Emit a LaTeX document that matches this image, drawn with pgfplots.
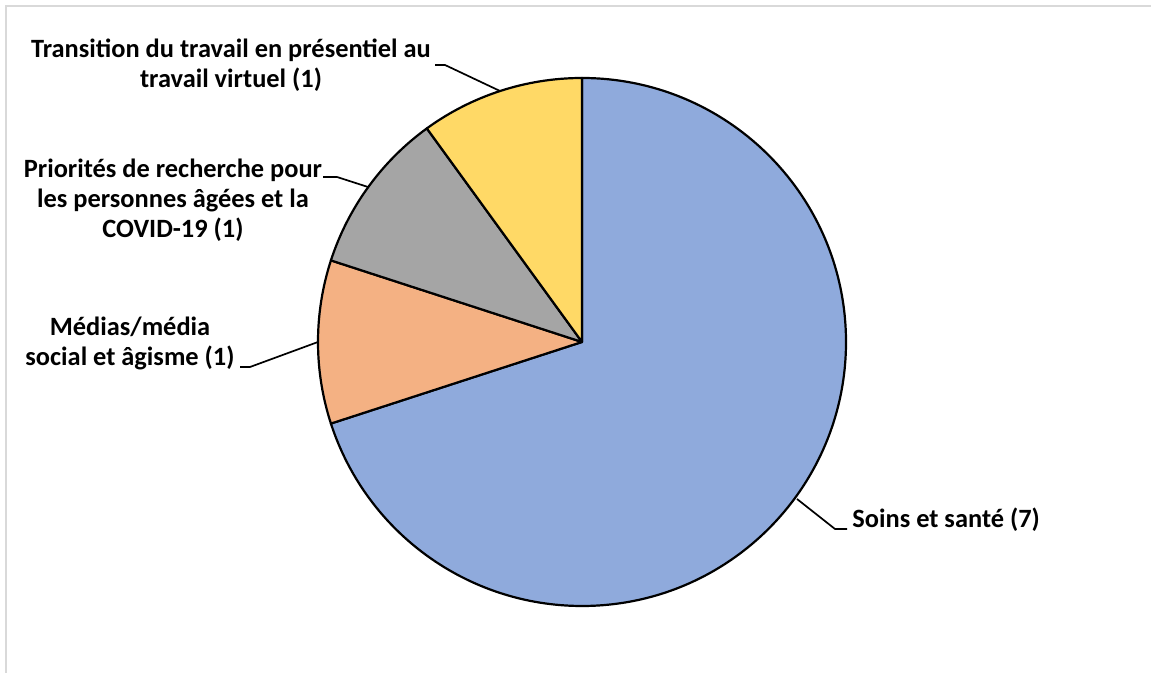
\documentclass[border=0pt]{standalone}
\usepackage{pgfplots}
\pgfplotsset{compat=1.18}
\usepackage{pgfplotstable}
\usepackage{fontspec}
\setmainfont{Carlito}

\definecolor{pieblue}{HTML}{8FAADC}
\definecolor{pieorange}{HTML}{F4B183}
\definecolor{piegray}{HTML}{A5A5A5}
\definecolor{pieyellow}{HTML}{FFD966}
\definecolor{framegray}{HTML}{D9D9D9}

% slices, clockwise from 12 o'clock
\pgfplotstableread[col sep=comma]{
value,color
7,pieblue
1,pieorange
1,piegray
1,pieyellow
}\piedata

\begin{document}
\begin{tikzpicture}[every node/.style={font=\fontsize{13.2}{15}\selectfont\bfseries, inner sep=0pt}]
\begin{axis}[
  x=0.5pt, y=0.5pt,
  xmin=0, xmax=1151, ymin=0, ymax=673,
  hide axis, clip=false,
  at={(0,0)}, anchor=south west,
]
  % chart frame
  \draw[framegray, line width=0.75pt] (axis cs:6,0) -- (axis cs:6,667) -- (axis cs:1151,667);

  % total of the values
  \pgfplotstablegetrowsof{\piedata}
  \pgfmathtruncatemacro\nrows{\pgfplotsretval-1}
  \gdef\pietotal{0}
  \pgfplotsforeachungrouped \i in {0,...,\nrows}{%
    \pgfplotstablegetelem{\i}{value}\of\piedata
    \pgfmathsetmacro\tmp{\pietotal+\pgfplotsretval}%
    \global\let\pietotal\tmp
  }
  % wedges
  \gdef\acur{90}
  \pgfplotsforeachungrouped \i in {0,...,\nrows}{%
    \pgfplotstablegetelem{\i}{value}\of\piedata \let\v\pgfplotsretval
    \pgfplotstablegetelem{\i}{color}\of\piedata \let\c\pgfplotsretval
    \pgfmathsetmacro\anext{\acur-360*\v/\pietotal}%
    \edef\temp{\noexpand\filldraw[fill=\c, draw=black, line width=1.1pt, line join=round]
      (axis cs:582,331) -- ++(\acur:132pt) arc[start angle=\acur, end angle=\anext, radius=132pt] -- cycle;}%
    \temp
    \global\let\acur\anext
  }

  % leader lines
  \begin{scope}[line width=0.85pt]
    \draw (axis cs:435,608) -- (axis cs:445,608) -- (axis cs:500,582);
    \draw (axis cs:323,496) -- (axis cs:337,496) -- (axis cs:368,486);
    \draw (axis cs:240,306) -- (axis cs:250,306) -- (axis cs:318,331);
    \draw (axis cs:847,144) -- (axis cs:835,144) -- (axis cs:797,174);
  \end{scope}

  % data labels
  \node[anchor=base] at (axis cs:231,615) {Transition du travail en présentiel au};
  \node[anchor=base] at (axis cs:231,585) {travail virtuel (1)};
  \node[anchor=base] at (axis cs:173,495) {Priorités de recherche pour};
  \node[anchor=base] at (axis cs:173,465) {les personnes âgées et la};
  \node[anchor=base] at (axis cs:173,435) {COVID-19 (1)};
  \node[anchor=base] at (axis cs:130,337) {Médias/média};
  \node[anchor=base] at (axis cs:130,307) {social et âgisme (1)};
  \node[anchor=base west] at (axis cs:852,145) {Soins et santé (7)};
\end{axis}
\pgfresetboundingbox
\useasboundingbox (0,0) rectangle (575.5pt,336.5pt);
\end{tikzpicture}
\end{document}
